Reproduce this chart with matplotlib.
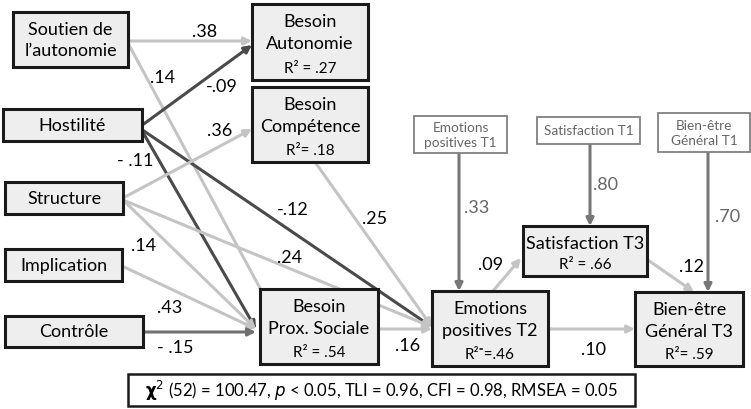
import matplotlib.pyplot as plt
from matplotlib.patches import Rectangle, FancyArrowPatch

plt.rcParams['font.family'] = ['Lato', 'DejaVu Sans']

# ------------- Data ------------- #
node_names = ['soutien', 'hostilite', 'structure', 'implication', 'controle',
              'autonomie', 'competence', 'prox', 'emo_t1', 'sat_t1', 'be_t1',
              'sat_t3', 'emo_t2', 'be_t3']
node_labels = ['Soutien de\nl\u2019autonomie', 'Hostilit\u00e9', 'Structure', 'Implication', 'Contr\u00f4le',
               'Besoin\nAutonomie', 'Besoin\nComp\u00e9tence', 'Besoin\nProx. Sociale',
               'Emotions\npositives T1', 'Satisfaction T1', 'Bien-\u00eatre\nG\u00e9n\u00e9ral T1',
               'Satisfaction T3', 'Emotions\npositives T2', 'Bien-\u00eatre\nG\u00e9n\u00e9ral T3']
node_r2 = [None, None, None, None, None,
           'R\u00b2 = .27', 'R\u00b2= .18', 'R\u00b2 = .54',
           None, None, None,
           'R\u00b2 = .66', 'R\u00b2\u207c=.46', 'R\u00b2= .59']

edge_from = ['soutien', 'soutien', 'hostilite', 'hostilite', 'hostilite', 'structure',
             'structure', 'structure', 'implication', 'controle', 'competence', 'prox',
             'emo_t1', 'sat_t1', 'be_t1', 'emo_t2', 'sat_t3', 'emo_t2']
edge_to = ['autonomie', 'prox', 'autonomie', 'prox', 'emo_t2', 'competence',
           'prox', 'emo_t2', 'prox', 'prox', 'emo_t2', 'emo_t2',
           'emo_t2', 'sat_t3', 'be_t3', 'sat_t3', 'be_t3', 'be_t3']
edge_coef = ['.38', '.14', '-.09', '- .11', '-.12', '.36',
             '.14', '.24', '.43', '- .15', '.25', '.16',
             '.33', '.80', '.70', '.09', '.12', '.10']

fit_text = r'$\mathbf{\chi}^2$ (52) = 100.47, $p$ < 0.05, TLI = 0.96, CFI = 0.98, RMSEA = 0.05'

# ------------- Layout (pixels, y down) ------------- #
box = {
    'soutien': (13, 13, 128, 68), 'hostilite': (3, 110, 142, 142),
    'structure': (5, 183, 123, 215), 'implication': (5, 250, 122, 282),
    'controle': (5, 317, 143, 348),
    'autonomie': (252, 5, 368, 81), 'competence': (252, 88, 368, 163),
    'prox': (260, 290, 378, 365),
    'emo_t1': (414, 117, 507, 154), 'sat_t1': (537, 118, 640, 145),
    'be_t1': (658, 114, 750, 153),
    'sat_t3': (523, 227, 647, 277), 'emo_t2': (432, 292, 548, 367),
    'be_t3': (635, 293, 743, 367),
}
# start point, end point, colour, label position
edge_geom = [
    ((128, 42), (252, 42), '#c4c4c4', (205, 32)),
    ((129, 46), (282, 330), '#c4c4c4', (163, 78)),
    ((141, 127), (252, 46), '#4a4a4a', (222, 87)),
    ((141, 130), (256, 330), '#4a4a4a', (135, 161)),
    ((141, 130), (432, 328), '#4a4a4a', (293, 210)),
    ((123, 199), (252, 130), '#c4c4c4', (220, 131)),
    ((123, 201), (256, 330), '#c4c4c4', (144, 246)),
    ((123, 201), (432, 328), '#c4c4c4', (290, 258)),
    ((122, 267), (256, 330), '#c4c4c4', (170, 308)),
    ((143, 333), (256, 333), '#707070', (175, 348)),
    ((315, 163), (432, 328), '#c4c4c4', (375, 219)),
    ((378, 330), (432, 330), '#c4c4c4', (408, 346)),
    ((459, 154), (459, 292), '#777777', (477, 208)),
    ((590, 145), (590, 227), '#777777', (606, 185)),
    ((708, 153), (708, 293), '#777777', (728, 217)),
    ((493, 292), (521, 259), '#c4c4c4', (491, 265)),
    ((645, 259), (694, 293), '#c4c4c4', (691, 267)),
    ((548, 330), (635, 330), '#c4c4c4', (593, 350)),
]
small_nodes = ['emo_t1', 'sat_t1', 'be_t1']

# ------------- Plot ------------- #
fig = plt.figure(figsize=(7.51, 4.10), dpi=100)
ax = fig.add_axes([0, 0, 1, 1])
ax.set_xlim(0, 751)
ax.set_ylim(410, 0)
ax.axis('off')

for (p0, p1, col, lp), coef, src in zip(edge_geom, edge_coef, edge_from):
    ax.add_patch(FancyArrowPatch(p0, p1, arrowstyle='-|>', mutation_scale=11,
                                 color=col, lw=2.2, shrinkA=0, shrinkB=0, zorder=2))
    tcol = '#666666' if src in small_nodes else 'black'
    ax.text(lp[0], lp[1], coef, ha='center', va='center', fontsize=13, color=tcol, zorder=3)

for name, label, r2 in zip(node_names, node_labels, node_r2):
    x0, y0, x1, y1 = box[name]
    xc = (x0 + x1) / 2
    lines = label.split('\n')
    if name in small_nodes:
        ax.add_patch(Rectangle((x0, y0), x1 - x0, y1 - y0, facecolor='white',
                               edgecolor='#808080', lw=1.3, zorder=4))
        yc = (y0 + y1) / 2
        for i, ln in enumerate(lines):
            ax.text(xc, yc + (i - (len(lines) - 1) / 2) * 16, ln, ha='center', va='center',
                    fontsize=9.8, color='#666666', zorder=5)
        continue
    ax.add_patch(Rectangle((x0, y0), x1 - x0, y1 - y0, facecolor='#eeeeee',
                           edgecolor='#1a1a1a', lw=2.2, zorder=4))
    if r2 is None:
        yc = (y0 + y1) / 2
        step = 21
    else:
        yc = y0 + 17 + (len(lines) - 1) * 11
        step = 22
        ax.text(xc, y1 - 12, r2, ha='center', va='center', fontsize=11, zorder=5)
    for i, ln in enumerate(lines):
        ax.text(xc, yc + (i - (len(lines) - 1) / 2) * step, ln, ha='center', va='center',
                fontsize=13, zorder=5)

ax.add_patch(Rectangle((128, 375), 507, 32, facecolor='white', edgecolor='#1a1a1a', lw=1.8, zorder=4))
ax.text(381, 391, fit_text, ha='center', va='center', fontsize=12, zorder=5)

plt.savefig('out.png', dpi=100)
